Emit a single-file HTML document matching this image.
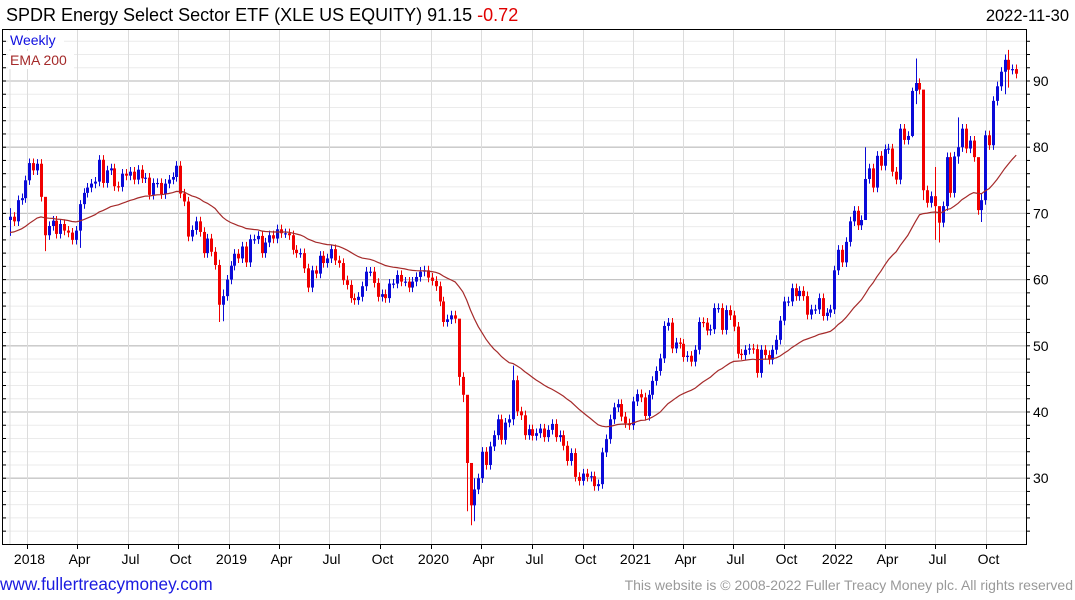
<!DOCTYPE html>
<html><head><meta charset="utf-8">
<style>
body{margin:0;background:#fff;width:1075px;height:600px;overflow:hidden;font-family:"Liberation Sans","DejaVu Sans",sans-serif;}
svg{display:block}
</style></head>
<body>
<svg id="chart" width="1075" height="600" xmlns="http://www.w3.org/2000/svg">
<rect x="0" y="0" width="1075" height="600" fill="#fff"/>
<g id="grid"></g>
<g id="xaxis"></g>
<g id="yaxis"></g>
<g id="candles"></g>
<polyline id="ema" fill="none" stroke="#a52a2a" stroke-width="1.2"/>
<line x1="2" y1="29.5" x2="1026" y2="29.5" stroke="#000"/>
<line x1="2.5" y1="29" x2="2.5" y2="544" stroke="#000"/>
<line x1="1026.5" y1="29" x2="1026.5" y2="544" stroke="#000"/>
<line x1="2" y1="544.5" x2="1027" y2="544.5" stroke="#000"/>
<text x="6" y="21" font-size="18" fill="#000">SPDR Energy Select Sector ETF (XLE US EQUITY) 91.15 <tspan fill="#e00000">-0.72</tspan></text>
<text x="1069" y="21" font-size="16.5" text-anchor="end" fill="#000">2022-11-30</text>
<rect x="8" y="31" width="56" height="18" fill="#fff"/>
<text x="10" y="45" font-size="14" fill="#1010e0">Weekly</text>
<rect x="8" y="51" width="66" height="18" fill="#fff"/>
<text x="10" y="65" font-size="14" fill="#a52a2a">EMA 200</text>
<text x="0" y="590" font-size="17.2" fill="#1a1ae0">www.fullertreacymoney.com</text>
<text x="1073" y="590" font-size="14" text-anchor="end" fill="#999">This website is © 2008-2022 Fuller Treacy Money plc. All rights reserved</text>
</svg>
<script>
const closes = [69.5,68.8,72.0,72.3,75.0,77.6,76.5,77.5,72.5,66.7,
68.1,68.9,66.9,68.4,67.4,67.1,66.0,67.4,71.4,73.1,
73.9,74.5,74.8,78.1,74.6,76.5,76.8,74.1,74.0,76.0,
75.7,76.3,75.1,76.6,75.3,75.4,72.8,74.6,74.6,72.9,
74.5,75.1,75.5,77.2,73.0,71.8,66.5,67.5,68.8,67.2,
64.0,66.2,64.2,62.2,56.2,57.5,60.0,62.1,63.9,63.2,
65.0,62.6,66.1,
66.1,66.6,64.0,65.6,66.7,66.2,67.6,67.0,67.0,66.7,
64.5,64.0,64.0,61.7,58.8,61.4,60.9,63.6,62.5,63.2,
64.6,62.9,62.5,59.9,59.2,57.2,56.9,57.4,59.0,61.2,
61.2,59.5,57.4,57.8,57.2,59.4,59.4,60.7,59.7,59.7,
58.8,59.7,60.4,61.2,61.4,60.3,59.8,59.0,56.7,53.6,
54.0,54.6,54.1,
45.3,42.6,32.3,25.9,28.3,30.0,34.0,32.0,34.8,36.5,
38.9,35.8,38.4,38.9,44.8,40.1,39.5,36.5,37.4,36.4,
36.8,37.5,36.2,37.3,38.2,36.2,36.5,34.9,32.6,33.8,
30.2,29.6,30.7,30.2,30.3,28.8,29.1,33.9,35.9,38.9,
40.7,41.2,39.3,38.3,38.0,41.6,42.7,
42.2,39.4,42.6,44.7,46.2,48.1,53.0,53.5,49.6,50.5,
50.3,48.3,48.5,47.6,49.4,53.6,53.5,52.3,52.5,55.7,
55.7,52.4,55.4,54.6,52.9,48.8,48.6,49.4,49.6,49.5,
45.9,49.4,48.6,47.9,49.4,50.9,53.8,56.7,56.7,58.7,
57.5,58.3,57.5,54.7,55.5,55.5,57.2,54.5,55.0,55.5,61.4,
64.5,62.6,65.7,68.8,70.4,68.2,69.0,75.2,76.8,73.9,
78.7,77.2,79.7,79.8,76.3,75.1,82.8,81.1,81.7,88.5,
89.7,88.7,73.5,71.6,72.6,71.1,68.6,71.1,78.5,73.1,
78.6,80.0,82.8,79.8,81.0,78.5,70.5,72.0,81.8,80.3,
87.0,89.2,91.4,93.2,91.7,91.8,91.1];
const firstOpen = 69.0;
const wickIdx = [0,9,18,54,55,116,117,118,119,120,130,221,233,234,236,239,240,245,250,251,257,258];
const wickHigh = [70.8,67.5,72,63,58.5,54,46,37,32,30,47,80,89,93.4,87,77,71,84.5,76,73,94,94.7];
const wickLow = [66.6,64.3,64.8,53.6,53.7,44,41.5,25,22.9,23.5,38,73,81.5,86.5,72,66,65.6,77.5,69.8,68.7,88,89];
const yTicks = [30,40,50,60,70,80,90];
const monthTicks = [["2018-01-01","2018"],["2018-04-01","Apr"],["2018-07-01","Jul"],["2018-10-01","Oct"],
["2019-01-01","2019"],["2019-04-01","Apr"],["2019-07-01","Jul"],["2019-10-01","Oct"],
["2020-01-01","2020"],["2020-04-01","Apr"],["2020-07-01","Jul"],["2020-10-01","Oct"],
["2021-01-01","2021"],["2021-04-01","Apr"],["2021-07-01","Jul"],["2021-10-01","Oct"],
["2022-01-01","2022"],["2022-04-01","Apr"],["2022-07-01","Jul"],["2022-10-01","Oct"]];
const emaStart = 67.0;

const NS="http://www.w3.org/2000/svg";
const START=Date.UTC(2017,11,4);
const WEEK_PX=3.87;
function xIdx(i){return 10+i*WEEK_PX;}
function xDate(s){const p=s.split("-");const d=Date.UTC(+p[0],+p[1]-1,+p[2]);return 12+(d-START)/86400000/7*WEEK_PX;}
function yVal(v){return 81+(90-v)*6.62;}
function mk(tag,attrs,parent){const e=document.createElementNS(NS,tag);for(const k in attrs)e.setAttribute(k,attrs[k]);parent.appendChild(e);return e;}

const grid=document.getElementById("grid");
for(let v=22;v<=96;v+=2){
  const major=v%10===0;
  const l=mk("line",{x1:3,x2:1026,y1:yVal(v),y2:yVal(v),stroke:major?"#c4c4c4":"#ebebeb","stroke-width":major?1.3:1},grid);
  
  
  const t=mk("line",{x1:2,x2:6,y1:yVal(v),y2:yVal(v),stroke:"#000"},grid);
  
  
  const t2=mk("line",{x1:1026,x2:1030,y1:yVal(v),y2:yVal(v),stroke:"#000"},grid);
  
  
}
const g0=mk("line",{x1:10,x2:10,y1:30,y2:544,stroke:"#ddd"},grid);



const xa=document.getElementById("xaxis");
monthTicks.forEach(m=>{
  const x=Math.round(xDate(m[0]))+0.5;
  const gl=mk("line",{x1:x,x2:x,y1:30,y2:544,stroke:"#dcdcdc"},grid);
  
  
  const tk=mk("line",{x1:x,x2:x,y1:544,y2:549,stroke:"#000"},xa);
  
  
  const tx=mk("text",{x:x+2,y:564,"font-size":14,"text-anchor":"middle",fill:"#000"},xa);
  tx.textContent=m[1];
  
  
});

const ya=document.getElementById("yaxis");
yTicks.forEach(v=>{
  const tx=mk("text",{x:1033,y:yVal(v)+5,"font-size":14,fill:"#000"},ya);
  tx.textContent=String(v);
  
  
});

const cg=document.getElementById("candles");
let ema=emaStart;const pts=[];
closes.forEach((c,i)=>{
  const o=i===0?firstOpen:closes[i-1];
  const w=wickIdx.indexOf(i);
  const hi=w>=0?wickHigh[w]:Math.max(o,c)+0.7;
  const lo=w>=0?wickLow[w]:Math.min(o,c)-0.7;
  const up=c>=o;const col=up?"#0a0ad8":"#f00000";
  const x=Math.round(xIdx(i));
  const g=mk("g",{},cg);
  
  
  mk("line",{x1:x+0.5,x2:x+0.5,y1:yVal(hi),y2:yVal(lo),stroke:col,"stroke-width":1},g);
  const top=yVal(Math.max(o,c)),bot=yVal(Math.min(o,c));
  mk("rect",{x:x-1,y:top,width:3,height:Math.max(1.2,bot-top),fill:col},g);
  ema=ema+(c-ema)*2/41;
  pts.push(xIdx(i).toFixed(1)+","+yVal(ema).toFixed(1));
});
document.getElementById("ema").setAttribute("points",pts.join(" "));
</script>
</body></html>
